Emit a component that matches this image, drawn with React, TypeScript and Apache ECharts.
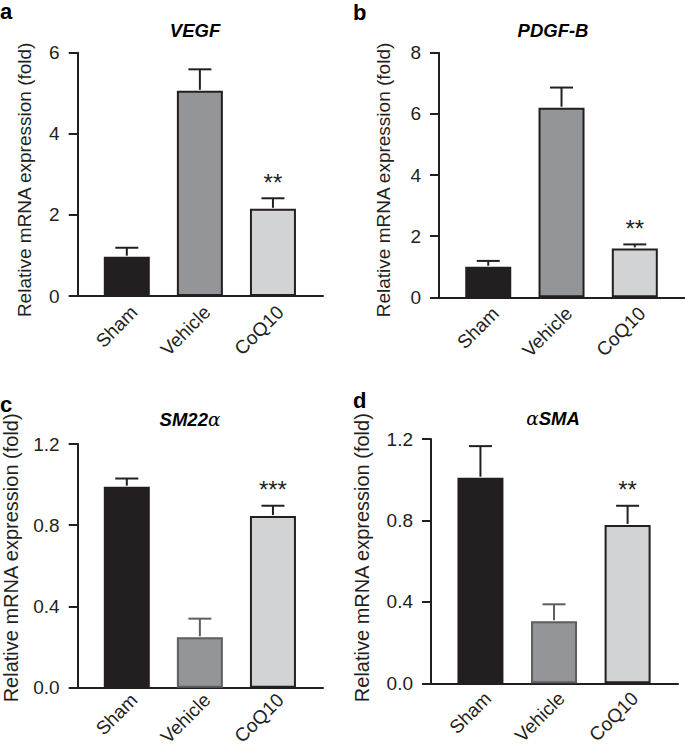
import React, { useEffect, useRef } from "react";
import * as echarts from "echarts";

const categories = ["Sham", "Vehicle", "CoQ10"];
const catPos = [0, 1, 2];

const vegfMean = [0.97, 5.06, 2.15];
const vegfErr = [0.22, 0.53, 0.26];
const vegfSig = ["", "", "**"];

const pdgfMean = [1.0, 6.2, 1.6];
const pdgfErr = [0.19, 0.66, 0.13];
const pdgfSig = ["", "", "**"];

const sm22Mean = [0.99, 0.248, 0.845];
const sm22Err = [0.04, 0.092, 0.051];
const sm22Sig = ["", "", "***"];

const asmaMean = [1.01, 0.305, 0.778];
const asmaErr = [0.155, 0.083, 0.094];
const asmaSig = ["", "", "**"];

const yTicksA = { min: 0, max: 6, interval: 2 };
const yTicksB = { min: 0, max: 8, interval: 2 };
const yTicksC = { min: 0, max: 1.2, interval: 0.4 };
const yTicksD = { min: 0, max: 1.2, interval: 0.4 };

const FONT = "Liberation Sans, Arial, Helvetica, sans-serif";
const INK = "#231f20";
const fills = ["#231f20", "#939598", "#d1d3d4"];

type Panel = {
  letter: string;
  title: string;
  titleRich?: boolean;
  mean: number[];
  err: number[];
  sig: string[];
  ticks: { min: number; max: number; interval: number };
  decimals: number;
  grid: { left: number; top: number; width: number; height: number };
  nameGap: number;
  nameSize: number;
  namePad: number[];
  xLabelMargin: number;
  vehicleBorder: string;
  titlePos: [number, number];
  letterPos: [number, number];
  letterLH: number;
};

const panels: Panel[] = [
  {
    letter: "a",
    title: "VEGF",
    mean: vegfMean,
    err: vegfErr,
    sig: vegfSig,
    ticks: yTicksA,
    decimals: 0,
    grid: { left: 77.7, top: 52.7, width: 245.3, height: 243.3 },
    nameGap: 45.7,
    nameSize: 19,
    namePad: [0, 11, 0, 0],
    xLabelMargin: 13,
    vehicleBorder: INK,
    titlePos: [195, 30],
    letterPos: [0, 0],
    letterLH: 23.8,
  },
  {
    letter: "b",
    title: "PDGF-B",
    mean: pdgfMean,
    err: pdgfErr,
    sig: pdgfSig,
    ticks: yTicksB,
    decimals: 0,
    grid: { left: 439, top: 52.7, width: 246, height: 244.6 },
    nameGap: 47.8,
    nameSize: 19,
    namePad: [0, 10, 0, 0],
    xLabelMargin: 13,
    vehicleBorder: INK,
    titlePos: [553, 30],
    letterPos: [353, 0],
    letterLH: 25.8,
  },
  {
    letter: "c",
    title: "{b|SM22}{g|α}",
    titleRich: true,
    mean: sm22Mean,
    err: sm22Err,
    sig: sm22Sig,
    ticks: yTicksC,
    decimals: 1,
    grid: { left: 77.7, top: 444, width: 245.3, height: 243.7 },
    nameGap: 58.5,
    nameSize: 20,
    namePad: [0, 0, 0, 16],
    xLabelMargin: 9,
    vehicleBorder: "#5d5e60",
    titlePos: [190, 419],
    letterPos: [0, 392.4],
    letterLH: 24,
  },
  {
    letter: "d",
    title: "{g|α}{b|SMA}",
    titleRich: true,
    mean: asmaMean,
    err: asmaErr,
    sig: asmaSig,
    ticks: yTicksD,
    decimals: 1,
    grid: { left: 431, top: 439, width: 247, height: 244.3 },
    nameGap: 61,
    nameSize: 20,
    namePad: [0, 0, 0, 7],
    xLabelMargin: 12,
    vehicleBorder: "#5d5e60",
    titlePos: [553, 418],
    letterPos: [353, 388.4],
    letterLH: 24,
  },
];

const X_MIN = -0.672;
const X_MAX = 2.685;
const LABEL_SHIFT = 0.1;

export default function App() {
  const ref = useRef<HTMLDivElement>(null);
  useEffect(() => {
    document.body.style.margin = "0";
    if (!ref.current) return;
    const chart = echarts.init(ref.current, null, { renderer: "svg" });

    const grids: any[] = [];
    const xAxes: any[] = [];
    const yAxes: any[] = [];
    const series: any[] = [];
    const graphics: any[] = [];

    panels.forEach((p, i) => {
      grids.push({ ...p.grid, containLabel: false, outerBoundsMode: "none" });
      xAxes.push({
        type: "value",
        gridIndex: i,
        min: X_MIN,
        max: X_MAX,
        splitLine: { show: false },
        axisLine: { show: true, onZero: false, lineStyle: { color: INK, width: 2 } },
        axisTick: { show: false },
        axisLabel: {
          customValues: catPos.map((c) => c + LABEL_SHIFT),
          formatter: (v: number) => categories[Math.round(v)] ?? "",
          rotate: 45,
          margin: p.xLabelMargin,
          fontSize: 19,
          fontFamily: FONT,
          color: INK,
        },
      });
      yAxes.push({
        type: "value",
        gridIndex: i,
        min: p.ticks.min,
        max: p.ticks.max,
        interval: p.ticks.interval,
        splitLine: { show: false },
        axisLine: { show: true, onZero: false, lineStyle: { color: INK, width: 2 } },
        axisTick: { show: true, length: 9, lineStyle: { color: INK, width: 2 } },
        axisLabel: {
          margin: 18,
          fontSize: 19,
          fontFamily: FONT,
          color: INK,
          formatter: (v: number) => v.toFixed(p.decimals),
        },
        name: "Relative mRNA expression (fold)",
        nameLocation: "middle",
        nameGap: p.nameGap,
        nameTextStyle: {
          fontSize: p.nameSize,
          lineHeight: 16,
          fontFamily: FONT,
          color: INK,
          padding: p.namePad,
        },
      });

      series.push({
        type: "bar",
        xAxisIndex: i,
        yAxisIndex: i,
        barWidth: 46,
        data: p.mean.map((m, k) => ({
          value: [catPos[k], m],
          itemStyle: {
            color: fills[k],
            borderColor: k === 1 ? p.vehicleBorder : INK,
            borderWidth: 2,
          },
        })),
        z: 2,
      });

      series.push({
        type: "custom",
        xAxisIndex: i,
        yAxisIndex: i,
        z: 3,
        data: p.mean.map((m, k) => [catPos[k], m, m + p.err[k]]),
        renderItem: (params: any, api: any) => {
          const x = api.value(0);
          const base = api.coord([x, api.value(1)]);
          const top = api.coord([x, api.value(2)]);
          const k = params.dataIndex;
          const col = k === 1 ? p.vehicleBorder : INK;
          const children: any[] = [
            {
              type: "line",
              shape: { x1: base[0], y1: base[1] - 1, x2: top[0], y2: top[1] },
              style: { stroke: col, lineWidth: 2 },
            },
            {
              type: "line",
              shape: { x1: top[0] - 11.5, y1: top[1], x2: top[0] + 11.5, y2: top[1] },
              style: { stroke: col, lineWidth: 2 },
            },
          ];
          if (p.sig[k]) {
            children.push({
              type: "text",
              x: top[0],
              y: top[1] - 16,
              style: {
                text: p.sig[k],
                fontSize: 24,
                fontFamily: FONT,
                fill: INK,
                align: "center",
                verticalAlign: "middle",
              },
            });
          }
          return { type: "group", children };
        },
      });

      graphics.push({
        type: "text",
        x: p.letterPos[0],
        y: p.letterPos[1],
        style: {
          text: p.letter,
          fontSize: 22,
          lineHeight: p.letterLH,
          fontWeight: "bold",
          fontFamily: FONT,
          fill: "#000",
          align: "left",
          verticalAlign: "top",
        },
      });
      graphics.push({
        type: "text",
        x: p.titlePos[0],
        y: p.titlePos[1],
        style: {
          text: p.title,
          fontSize: 18.5,
          fontWeight: "bold",
          fontStyle: "italic",
          fontFamily: FONT,
          fill: "#000",
          align: "center",
          verticalAlign: "middle",
          rich: p.titleRich
            ? {
                b: { fontSize: 18.5, fontWeight: "bold", fontStyle: "italic", fontFamily: FONT, fill: "#000" },
                g: { fontSize: 18.5, fontWeight: "normal", fontStyle: "italic", fontFamily: "DejaVu Serif, serif", fill: "#000" },
              }
            : undefined,
        },
      });
    });

    chart.setOption({
      animation: false,
      backgroundColor: "#fff",
      grid: grids,
      xAxis: xAxes,
      yAxis: yAxes,
      series,
      graphic: graphics,
    });
    return () => chart.dispose();
  }, []);
  return <div ref={ref} style={{ width: 685, height: 747 }} />;
}
